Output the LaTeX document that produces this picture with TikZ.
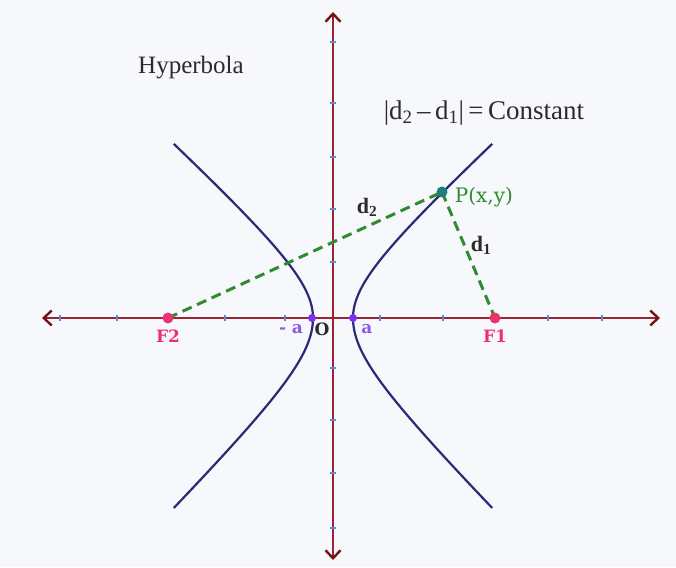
\documentclass[tikz,border=0pt]{standalone}
\usepackage{fontspec}
\setmainfont{Liberation Serif}
\newfontfamily\labelfont{DejaVu Serif}
\usetikzlibrary{arrows.meta,positioning,calc}
\definecolor{paper}{HTML}{F7F8FC}
\definecolor{axisred}{HTML}{9B2335}
\definecolor{tipdark}{HTML}{6E1515}
\definecolor{tickblue}{HTML}{5B8DC9}
\definecolor{curvenavy}{HTML}{2A2A75}
\definecolor{distgreen}{HTML}{2E8B2E}
\definecolor{focuspink}{HTML}{E8336F}
\definecolor{vertexpurple}{HTML}{7B2FF2}
\definecolor{apurple}{HTML}{8E5BE0}
\definecolor{pointteal}{HTML}{1E7F7A}
\definecolor{ink}{HTML}{2B2B2B}
\tikzset{
  axis/.style={line width=2.2pt,axisred,
    {Straight Barb[length=8pt,width=15pt,line width=2.4pt,color=tipdark]}-{Straight Barb[length=8pt,width=15pt,line width=2.4pt,color=tipdark]}},
  tick/.style={line width=2pt,tickblue},
  branch/.style={line width=2.2pt,curvenavy},
  dist/.style={line width=3pt,distgreen,dash pattern=on 10pt off 6pt},
  dot/.style={circle,inner sep=0pt,minimum size=#1},
  focus/.style={dot=11pt,fill=focuspink},
  vertex/.style={dot=8pt,fill=vertexpurple},
  point/.style={dot=11pt,fill=pointteal},
  flabel/.style={inner sep=0pt,text=focuspink,font=\labelfont\bfseries\fontsize{17}{20}\selectfont},
  alabel/.style={inner sep=0pt,text=apurple,font=\labelfont\bfseries\fontsize{17}{20}\selectfont},
  dlabel/.style={inner sep=0pt,text=ink,font=\bfseries\fontsize{22}{26}\selectfont}
}

\begin{document}
\begin{tikzpicture}[x=1pt,y=1pt]

\fill[paper] (-333,-249) rectangle (343,318);
\useasboundingbox (-333,-249) rectangle (343,318);

\coordinate (xl) at (-291,0);
\coordinate (xr) at (327,0);
\coordinate (yb) at (0,-242);
\coordinate (yt) at (0,306);
\coordinate (f2) at (-165,0);
\coordinate (f1) at (162,0);
\coordinate (p) at (109,126);

\draw[axis] (xl) -- (xr);
\draw[axis] (yb) -- (yt);

\foreach \t in {-273,-216,-108,-48,47,110,215,269}
  \draw[tick] (\t,-3) -- (\t,3);
\foreach \t in {-210,-155,-102,-50,56,109,161,215,276}
  \draw[tick] (-3,\t) -- (3,\t);

\foreach \s in {1,-1}
  \draw[branch,xscale=\s,samples=40]
    plot[domain=1.87:0] ({-40+60*cosh(\x)},{55*sinh(\x)})
    -- plot[domain=0:-1.87] ({-40+60*cosh(\x)},{60*sinh(\x)});

\draw[dist] (f2) -- (p);
\draw[dist] (p) -- (f1);

\node[focus] (f2dot) at (f2) {};
\node[focus] (f1dot) at (f1) {};
\node[vertex] (vl) at (-21,0) {};
\node[vertex] (vr) at (20,0) {};
\node[point] (pdot) at (p) {};

\node[flabel, below=6pt of f2dot] (f2lab) {F2};
\node[flabel, below=6pt of f1dot] (f1lab) {F1};
\node[alabel] (alab1) at (-42,-11) {- a};
\node[alabel] (alab2) at (34,-11) {a};
\node[inner sep=0pt,text=ink,font=\labelfont\bfseries\fontsize{17}{20}\selectfont] (olab) at (-11,-11) {O};
\node[inner sep=0pt,text=distgreen,font=\labelfont\fontsize{20}{24}\selectfont,
  right=7pt of pdot,yshift=-5pt] (plab) {P(x,y)};

\node[dlabel] (d2lab) at (34,111) {d\textsubscript{2}};
\node[dlabel] (d1lab) at (148,73) {d\textsubscript{1}};

\node[text=ink,font=\fontsize{25}{30}\selectfont] (title) at (-142,250) {Hyperbola};
\node[text=ink,font=\fontsize{27}{32}\selectfont] (rule) at (151,205)
  {|d\textsubscript{2}\,–\,d\textsubscript{1}|\,=\,Constant};

\end{tikzpicture}
\end{document}
